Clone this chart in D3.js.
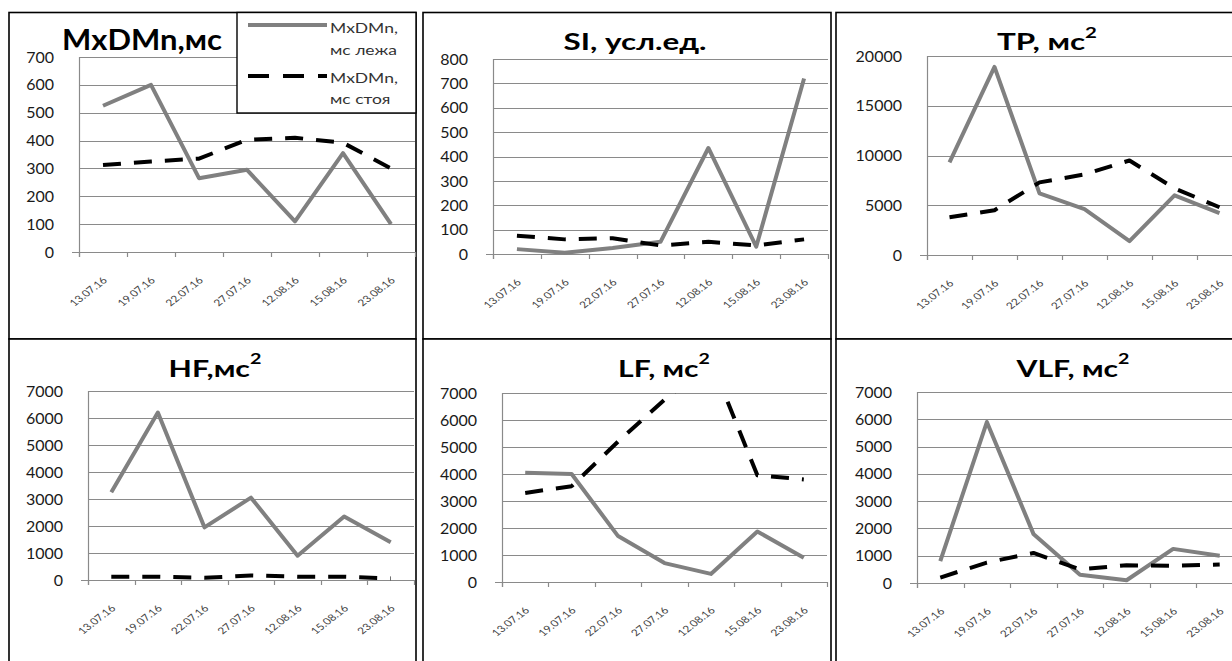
<!DOCTYPE html>
<html>
<head>
<meta charset="utf-8">
<script src="https://cdn.jsdelivr.net/npm/d3@7"></script>
<style>
  html, body { margin: 0; padding: 0; background: #fff; }
  svg { display: block; }
  text { font-family: Lato, "Open Sans", "DejaVu Sans", sans-serif; }
</style>
</head>
<body>
<svg id="chart" width="1232" height="661"></svg>
<script>
// Measurement dates (shared category axis)
const dates = ["13.07.16", "19.07.16", "22.07.16", "27.07.16", "12.08.16", "15.08.16", "23.08.16"];

// Series: "лежа" (lying) and "стоя" (standing) for each indicator
const mxdmnLying    = [525, 600, 265, 295, 110, 355, 100];
const mxdmnStanding = [312, 325, 335, 403, 410, 392, 300];

const siLying    = [20, 5, 25, 50, 435, 30, 720];
const siStanding = [75, 60, 65, 35, 50, 35, 60];

const tpLying    = [9300, 18900, 6200, 4600, 1400, 6000, 4200];
const tpStanding = [3800, 4500, 7300, 8100, 9500, 6700, 4800];

const hfLying    = [3250, 6200, 1950, 3050, 900, 2350, 1400];
const hfStanding = [120, 120, 80, 170, 120, 120, 60];

const lfLying    = [4050, 4000, 1700, 700, 300, 1870, 900];
const lfStanding = [3300, 3550, 5200, 6750, 8200, 3950, 3800];

const vlfLying    = [800, 5900, 1800, 300, 100, 1250, 1000];
const vlfStanding = [200, 750, 1100, 500, 650, 630, 680];

// Y-axis tick values per panel
const mxdmnTicks = [0, 100, 200, 300, 400, 500, 600, 700];
const siTicks    = [0, 100, 200, 300, 400, 500, 600, 700, 800];
const tpTicks    = [0, 5000, 10000, 15000, 20000];
const spectTicks = [0, 1000, 2000, 3000, 4000, 5000, 6000, 7000];

// Legend labels
const legendLying    = ["MxDMn,", "мс лежа"];
const legendStanding = ["MxDMn,", "мс стоя"];

// Panel layout: frame box, plot area and title placement
const panels = [
  { title: "MxDMn,мс", sup: null, lying: mxdmnLying, standing: mxdmnStanding, ticks: mxdmnTicks,
    frame: [9, 12.5, 416, 339], plot: { x0: 79, x1: 415, yTop: 57, y0: 252 },
    titleX: 142, titleY: 50, titleSize: 28, titleW: 160, legend: true },
  { title: "SI, усл.ед.", sup: null, lying: siLying, standing: siStanding, ticks: siTicks,
    frame: [423, 12.5, 831, 339], plot: { x0: 493, x1: 828, yTop: 59, y0: 254 },
    titleX: 635, titleY: 50, titleSize: 23, titleW: 143 },
  { title: "TP, мс", sup: "2", lying: tpLying, standing: tpStanding, ticks: tpTicks,
    frame: [836, 12.5, 1300, 339], plot: { x0: 927, x1: 1242, yTop: 56, y0: 255 },
    titleX: 1047, titleY: 50.5, titleSize: 23, titleW: 100 },
  { title: "HF,мс", sup: "2", lying: hfLying, standing: hfStanding, ticks: spectTicks,
    frame: [9, 339, 416, 720], plot: { x0: 88, x1: 414, yTop: 391, y0: 580 },
    titleX: 215, titleY: 377, titleSize: 23, titleW: 93 },
  { title: "LF, мс", sup: "2", lying: lfLying, standing: lfStanding, ticks: spectTicks,
    frame: [423, 339, 831, 720], plot: { x0: 502, x1: 827, yTop: 393, y0: 582 },
    titleX: 664, titleY: 377, titleSize: 23, titleW: 92 },
  { title: "VLF, мс", sup: "2", lying: vlfLying, standing: vlfStanding, ticks: spectTicks,
    frame: [836, 339, 1300, 720], plot: { x0: 917, x1: 1243, yTop: 392, y0: 583 },
    titleX: 1073, titleY: 377, titleSize: 23, titleW: 113 }
];

const svg = d3.select("#chart");
const GRID = "#8a8a8a";
const SOLID = "#808080";
const DASH = "#000";

// stretch a text element horizontally about cx so that it spans width w
function fitWidth(sel, cx, w) {
  const len = sel.node().getComputedTextLength();
  const sx = w / len;
  sel.attr("transform", `translate(${cx},0) scale(${sx},1) translate(${-cx},0)`);
}

panels.forEach((p, i) => {
  const g = svg.append("g").attr("class", "panel");
  const [fx0, fy0, fx1, fy1] = p.frame;

  // frame
  g.append("rect")
    .attr("x", fx0).attr("y", fy0)
    .attr("width", fx1 - fx0).attr("height", fy1 - fy0)
    .attr("fill", "#fff").attr("stroke", "#000").attr("stroke-width", 1.6);

  const { x0, x1, yTop, y0 } = p.plot;
  const x = d3.scaleBand().domain(dates).range([x0, x1]);
  const y = d3.scaleLinear().domain([0, d3.max(p.ticks)]).range([y0, yTop]);

  // horizontal gridlines
  g.append("g").selectAll("line").data(p.ticks.filter(t => t > 0)).join("line")
    .attr("x1", x0).attr("x2", x1)
    .attr("y1", d => Math.round(y(d)) + 0.5).attr("y2", d => Math.round(y(d)) + 0.5)
    .attr("stroke", GRID).attr("stroke-width", 1);

  // y axis labels
  const yAxis = d3.axisLeft(y).tickValues(p.ticks).tickFormat(d3.format("d"))
    .tickSize(0).tickPadding(25);
  const ya = g.append("g").attr("transform", `translate(${x0},0)`).call(yAxis);
  ya.select(".domain").remove();
  ya.selectAll("text").attr("font-size", 16).attr("fill", "#1a1a1a")
    .style("font-family", "Lato, sans-serif");

  // y axis line
  g.append("line").attr("x1", x0 + 0.5).attr("x2", x0 + 0.5)
    .attr("y1", Math.round(yTop)).attr("y2", Math.round(y0) + 5)
    .attr("stroke", GRID).attr("stroke-width", 1.2);

  // x axis line and boundary ticks
  g.append("line").attr("x1", x0 - 7).attr("x2", x1)
    .attr("y1", Math.round(y0) + 0.5).attr("y2", Math.round(y0) + 0.5)
    .attr("stroke", GRID).attr("stroke-width", 1.2);
  const bounds = dates.map(d => x(d)).concat([x.range()[1]]);
  g.append("g").selectAll("line").data(bounds).join("line")
    .attr("x1", d => Math.round(d) + 0.5).attr("x2", d => Math.round(d) + 0.5)
    .attr("y1", Math.round(y0)).attr("y2", Math.round(y0) + 5)
    .attr("stroke", GRID).attr("stroke-width", 1.2);

  // x category labels, slanted
  const xAxis = d3.axisBottom(x).tickSize(0);
  const xa = g.append("g").attr("transform", `translate(0,${y0})`).call(xAxis);
  xa.select(".domain").remove();
  xa.selectAll("text")
    .attr("x", 0).attr("y", 0).attr("dy", 0)
    .attr("text-anchor", "end")
    .attr("transform", "translate(5,29) scale(1.3,1) rotate(-45)")
    .attr("font-size", 9.2).attr("fill", "#444")
    .style("font-family", "Lato, sans-serif");

  // series lines, clipped to the plot area
  const clipId = "clip" + i;
  svg.append("clipPath").attr("id", clipId).append("rect")
    .attr("x", x0 - 10).attr("y", yTop).attr("width", x1 - x0 + 20).attr("height", y0 - yTop + 10);

  const line = d3.line()
    .x((d, k) => x(dates[k]) + x.bandwidth() / 2)
    .y(d => y(d));

  const lines = g.append("g").attr("clip-path", `url(#${clipId})`);
  lines.append("path").datum(p.lying)
    .attr("d", line).attr("fill", "none")
    .attr("stroke", SOLID).attr("stroke-width", 4).attr("stroke-linejoin", "round");
  lines.append("path").datum(p.standing)
    .attr("d", line).attr("fill", "none")
    .attr("stroke", DASH).attr("stroke-width", 4)
    .attr("stroke-dasharray", "18,13").attr("stroke-linejoin", "round");

  // title
  const t = g.append("text")
    .attr("x", p.titleX).attr("y", p.titleY)
    .attr("text-anchor", "middle")
    .attr("font-size", p.titleSize).attr("font-weight", 700).attr("fill", "#000")
    .text(p.title);
  if (p.sup) {
    t.append("tspan").attr("font-size", p.titleSize * 0.65).attr("dy", -p.titleSize * 0.55).text(p.sup);
  }
  fitWidth(t, p.titleX, p.titleW);

  // legend
  if (p.legend) {
    const lg = g.append("g");
    lg.append("rect").attr("x", 237).attr("y", fy0).attr("width", fx1 - 237).attr("height", 113 - fy0)
      .attr("fill", "#fff").attr("stroke", "#000").attr("stroke-width", 1.4);
    lg.append("line").attr("x1", 248).attr("x2", 327).attr("y1", 25).attr("y2", 25)
      .attr("stroke", SOLID).attr("stroke-width", 4);
    lg.append("line").attr("x1", 248).attr("x2", 327).attr("y1", 76).attr("y2", 76)
      .attr("stroke", DASH).attr("stroke-width", 4).attr("stroke-dasharray", "21,14");
    const entries = [
      { lines: legendLying, ys: [33, 55] },
      { lines: legendStanding, ys: [83, 104] }
    ];
    entries.forEach(e => {
      e.lines.forEach((s, k) => {
        lg.append("text").attr("x", 330).attr("y", e.ys[k])
          .attr("font-size", 14).attr("fill", "#333")
          .attr("transform", "translate(330,0) scale(1.25,1) translate(-330,0)")
          .text(s);
      });
    });
  }
});
</script>
</body>
</html>
